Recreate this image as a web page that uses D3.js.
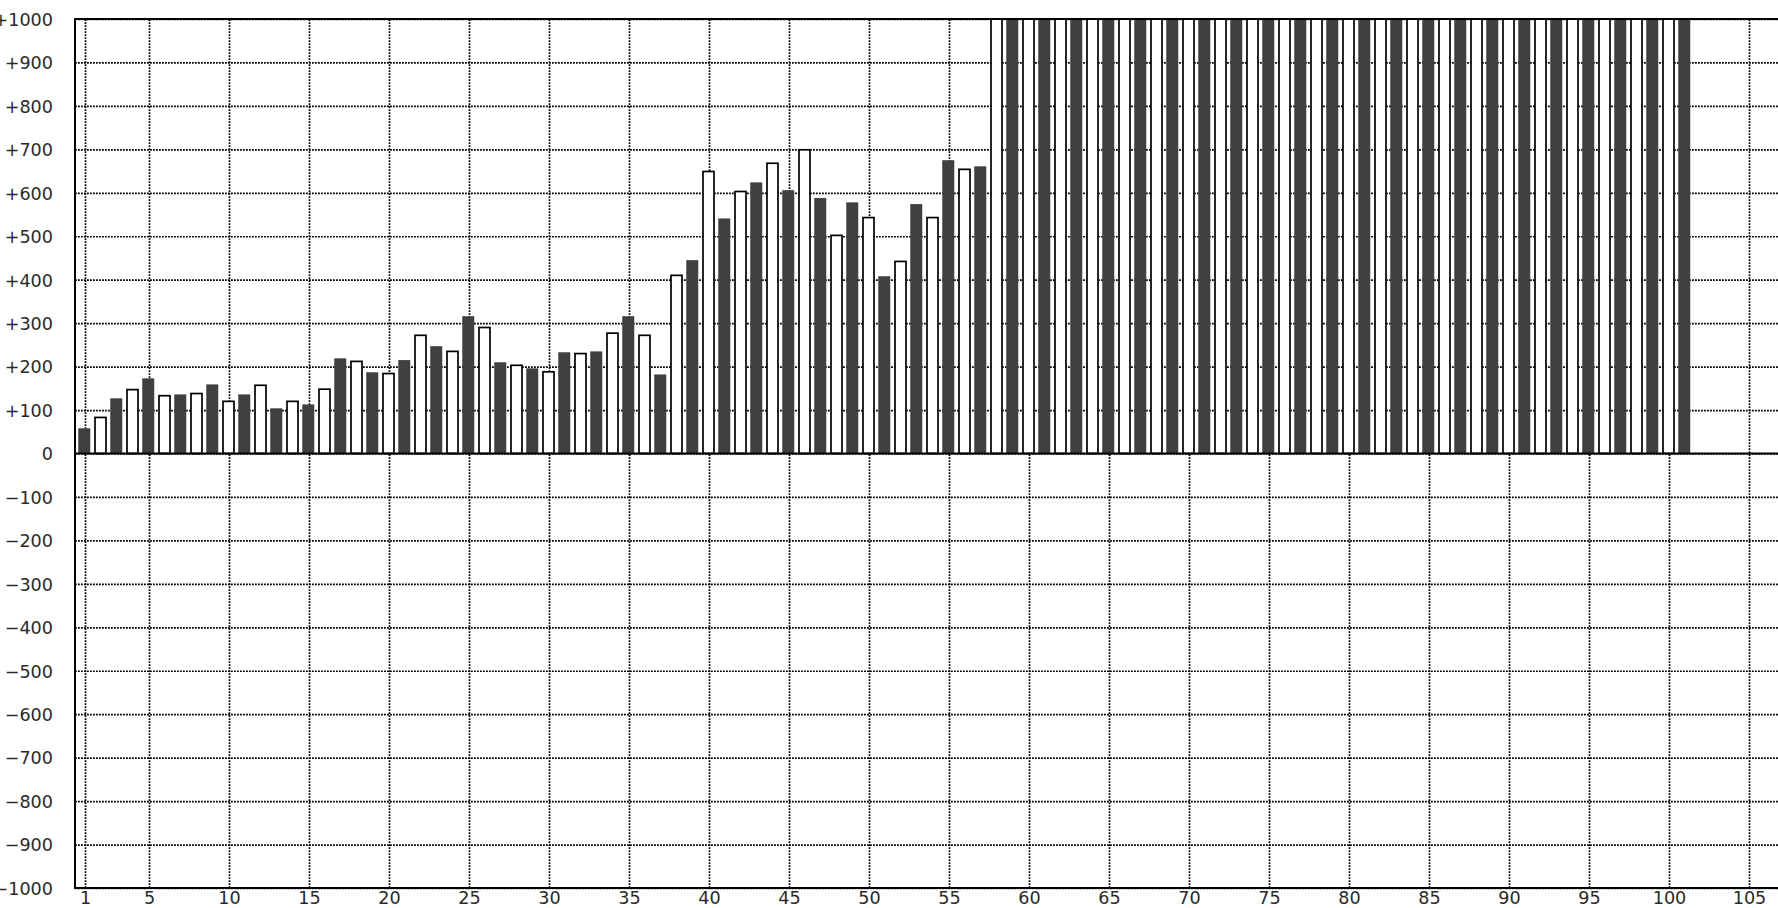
<!DOCTYPE html>
<html><head><meta charset="utf-8">
<script src="https://cdn.jsdelivr.net/npm/d3@7"></script>
<style>html,body{margin:0;padding:0;background:#fff;overflow:hidden}</style>
</head><body><svg id="c" width="1778" height="908"></svg>
<script>
// Bar values (bars 58-101 run off the top of the chart, shown clipped at +1000)
const values = [58,83,127,147,173,133,136,138,159,120,136,157,104,120,
  113,148,219,212,187,184,215,272,247,235,316,290,210,203,196,188,233,230,235,277,316,272,
  182,410,445,649,541,603,624,668,606,699,588,502,578,543,408,442,574,543,675,654,661,
  1000,1000,1000,1000,1000,1000,1000,1000,1000,1000,1000,1000,1000,1000,1000,1000,1000,1000,1000,1000,1000,1000,
  1000,1000,1000,1000,1000,1000,1000,1000,1000,1000,1000,1000,1000,1000,1000,1000,1000,1000,1000,1000,1000,1000];
const categories = d3.range(1, values.length + 1);
const xTicks = [1,5,10,15,20,25,30,35,40,45,50,55,60,65,70,75,80,85,90,95,100,105];
const yTicks = [-1000,-900,-800,-700,-600,-500,-400,-300,-200,-100,0,100,200,300,400,500,600,700,800,900,1000];
const yTickLabels = ["\u22121000","\u2212900","\u2212800","\u2212700","\u2212600","\u2212500","\u2212400","\u2212300","\u2212200","\u2212100","0","+100","+200","+300","+400","+500","+600","+700","+800","+900","+1000"];

const W = 1778, H = 908;
const L = 75, T = 19, B = 888, R = 1800;
const svg = d3.select("#c");
const x = d3.scaleLinear().domain([1,105]).range([85,1749]);
const y = d3.scaleLinear().domain([-1000,1000]).range([B,T]);
const font = "DejaVu Sans, sans-serif";

// Horizontal grid + y labels
const gy = svg.append("g").attr("transform",`translate(${L},0)`)
  .call(d3.axisLeft(y).tickValues(yTicks).tickSize(-(R-L)).tickPadding(22)
    .tickFormat((d,i)=>yTickLabels[i]));
gy.select(".domain").remove();
gy.selectAll("line").attr("stroke","#000").attr("stroke-width",1.7).attr("stroke-dasharray","1.8,1.2");
gy.selectAll("text").attr("font-family",font).attr("font-size",17.6).attr("fill","#2a2a2a").attr("dy","0.36em");

// Vertical grid + x labels
const gx = svg.append("g").attr("transform",`translate(0,${B})`)
  .call(d3.axisBottom(x).tickValues(xTicks).tickSize(-(B-T)).tickPadding(4));
gx.select(".domain").remove();
gx.selectAll("line").attr("stroke","#000").attr("stroke-width",1.7).attr("stroke-dasharray","1.8,1.2");
gx.selectAll("text").attr("font-family",font).attr("font-size",17.6).attr("fill","#2a2a2a");

// Clip
svg.append("clipPath").attr("id","plot").append("rect")
  .attr("x",L).attr("y",T).attr("width",R-L).attr("height",B-T);

const bars = svg.append("g").attr("clip-path","url(#plot)");
bars.selectAll("rect").data(categories).join("rect")
  .attr("x", d => d % 2 === 1 ? x(d) - 6.75 : x(d) - 6)
  .attr("width", d => d % 2 === 1 ? 12 : 11)
  .attr("y", (d,i) => y(Math.max(0, values[i])))
  .attr("height", (d,i) => Math.abs(y(values[i]) - y(0)))
  .attr("fill", d => d % 2 === 1 ? "#404040" : "#fff")
  .attr("stroke", d => d % 2 === 1 ? "none" : "#000")
  .attr("stroke-width", 1.7);

// Zero line and frame
svg.append("line").attr("x1",L).attr("x2",R).attr("y1",y(0)).attr("y2",y(0))
  .attr("stroke","#000").attr("stroke-width",2);
svg.append("path").attr("d",`M${R},${T}H${L}V${B}H${R}`)
  .attr("fill","none").attr("stroke","#000").attr("stroke-width",2);
</script></body></html>
